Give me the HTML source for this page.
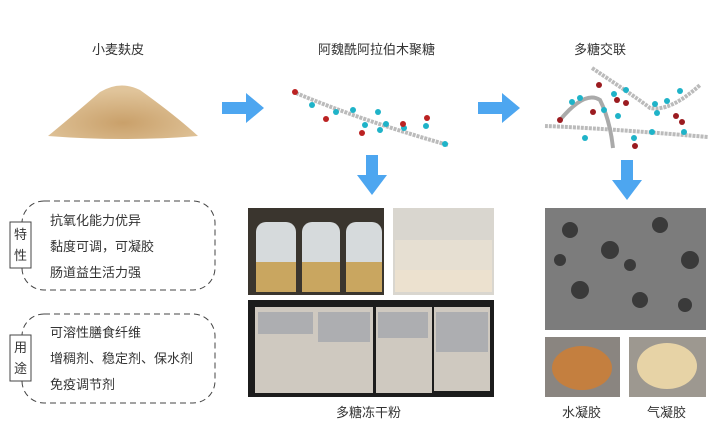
<!DOCTYPE html>
<html><head><meta charset="utf-8"><style>
body{margin:0;width:727px;height:430px;background:#fff;position:relative;overflow:hidden;font-family:"Liberation Sans","Noto Sans CJK SC",sans-serif;color:#333}
.a{position:absolute}
.t{position:absolute;font-size:13px;white-space:nowrap}
</style></head><body>
<div class="t" style="left:92px;top:39px">小麦麸皮</div>
<div class="t" style="left:318px;top:39px">阿魏酰阿拉伯木聚糖</div>
<div class="t" style="left:574px;top:39px">多糖交联</div>
<svg class="a" style="left:0;top:0" width="727" height="430">
<defs><radialGradient id="br" cx="50%" cy="70%" r="60%"><stop offset="0" stop-color="#c9a06a"/><stop offset="1" stop-color="#e0c49a"/></radialGradient></defs>
<path d="M48 136 Q70 118 100 92 Q120 80 140 90 Q175 115 198 136 Q125 142 48 136Z" fill="url(#br)"/>
<!-- right arrows -->
<path d="M222 102h24v-9l18 15-18 15v-9h-24z" fill="#4da6f0"/>
<path d="M478 102h24v-9l18 15-18 15v-9h-24z" fill="#4da6f0"/>
<!-- down arrows -->
<path d="M366 155h12v20h9l-15 20-15-20h9z" fill="#4da6f0"/>
<path d="M621 160h12v20h9l-15 20-15-20h9z" fill="#4da6f0"/>
<!-- chain1 -->
<path d="M296 93 Q360 120 448 145" stroke="#bbb" stroke-width="4" fill="none" stroke-dasharray="3 1"/>
<g fill="#1fb3c8"><circle cx="312" cy="105" r="3"/><circle cx="336" cy="112" r="3"/><circle cx="353" cy="110" r="3"/><circle cx="378" cy="112" r="3"/><circle cx="365" cy="125" r="3"/><circle cx="380" cy="130" r="3"/><circle cx="386" cy="124" r="3"/><circle cx="426" cy="126" r="3"/><circle cx="404" cy="128" r="3"/><circle cx="445" cy="144" r="3"/></g>
<g fill="#b22"><circle cx="295" cy="92" r="3"/><circle cx="326" cy="119" r="3"/><circle cx="362" cy="133" r="3"/><circle cx="403" cy="124" r="3"/><circle cx="427" cy="118" r="3"/></g>
<!-- chain2 -->
<path d="M545 126 Q600 128 708 137" stroke="#bbb" stroke-width="4" fill="none" stroke-dasharray="3 1"/>
<path d="M560 120 Q585 90 600 100 Q610 120 613 148" stroke="#aaa" stroke-width="4" fill="none"/>
<path d="M592 68 Q640 100 650 108 Q670 112 700 85" stroke="#bbb" stroke-width="4" fill="none" stroke-dasharray="3 1"/>
<g fill="#1fb3c8"><circle cx="572" cy="102" r="3"/><circle cx="580" cy="98" r="3"/><circle cx="604" cy="110" r="3"/><circle cx="614" cy="94" r="3"/><circle cx="626" cy="90" r="3"/><circle cx="655" cy="104" r="3"/><circle cx="667" cy="101" r="3"/><circle cx="680" cy="91" r="3"/><circle cx="684" cy="132" r="3"/><circle cx="652" cy="132" r="3"/><circle cx="585" cy="138" r="3"/><circle cx="634" cy="138" r="3"/><circle cx="618" cy="116" r="3"/><circle cx="657" cy="113" r="3"/></g>
<g fill="#9b1b20"><circle cx="599" cy="85" r="3"/><circle cx="617" cy="100" r="3"/><circle cx="626" cy="103" r="3"/><circle cx="593" cy="112" r="3"/><circle cx="560" cy="120" r="3"/><circle cx="676" cy="116" r="3"/><circle cx="682" cy="122" r="3"/><circle cx="635" cy="146" r="3"/></g>
<!-- dashed boxes -->
<rect x="22" y="201" width="193" height="89" rx="22" fill="none" stroke="#444" stroke-dasharray="6 4"/>
<rect x="22" y="314" width="193" height="89" rx="22" fill="none" stroke="#444" stroke-dasharray="6 4"/>
<rect x="10" y="222" width="21" height="46" fill="#fff" stroke="#444"/>
<rect x="10" y="335" width="21" height="46" fill="#fff" stroke="#444"/>
<!-- photos -->
<rect x="248" y="208" width="136" height="87" fill="#3a352e"/>
<g fill="#d6dadc"><rect x="256" y="222" width="40" height="70" rx="10"/><rect x="302" y="222" width="38" height="70" rx="10"/><rect x="346" y="222" width="36" height="70" rx="10"/></g>
<g fill="#c9a660"><rect x="256" y="262" width="40" height="30"/><rect x="302" y="262" width="38" height="30"/><rect x="346" y="262" width="36" height="30"/></g>
<rect x="393" y="208" width="101" height="87" fill="#d9d6cf"/>
<rect x="395" y="240" width="97" height="50" fill="#e6dfd2"/>
<rect x="395" y="270" width="97" height="22" fill="#ece1cf"/>
<rect x="248" y="300" width="246" height="97" fill="#1c1c1c"/>
<g fill="#cfc9c0"><rect x="255" y="307" width="60" height="86"/><rect x="315" y="307" width="58" height="86"/><rect x="376" y="307" width="56" height="86"/><rect x="434" y="307" width="56" height="84"/></g>
<g fill="#9fa3ac" opacity=".7"><rect x="258" y="312" width="55" height="22"/><rect x="318" y="312" width="52" height="30"/><rect x="378" y="312" width="50" height="26"/><rect x="436" y="312" width="52" height="40"/></g>
<rect x="545" y="208" width="161" height="122" fill="#7c7c7c"/>
<g fill="#3a3a3a"><circle cx="570" cy="230" r="8"/><circle cx="610" cy="250" r="9"/><circle cx="660" cy="225" r="8"/><circle cx="690" cy="260" r="9"/><circle cx="580" cy="290" r="9"/><circle cx="640" cy="300" r="8"/><circle cx="630" cy="265" r="6"/><circle cx="685" cy="305" r="7"/><circle cx="560" cy="260" r="6"/></g>
<rect x="545" y="337" width="75" height="60" fill="#8a8580"/>
<ellipse cx="582" cy="368" rx="30" ry="22" fill="#c47f3f"/>
<rect x="629" y="337" width="77" height="60" fill="#9d9890"/>
<ellipse cx="667" cy="366" rx="30" ry="23" fill="#e7d3a6"/>
</svg>
<div class="t" style="left:9px;top:224px;line-height:21px;width:23px;text-align:center">特<br>性</div>
<div class="t" style="left:9px;top:337px;line-height:21px;width:23px;text-align:center">用<br>途</div>
<div class="t" style="left:50px;top:208px;line-height:26px">抗氧化能力优异<br>黏度可调，可凝胶<br>肠道益生活力强</div>
<div class="t" style="left:50px;top:320px;line-height:26px">可溶性膳食纤维<br>增稠剂、稳定剂、保水剂<br>免疫调节剂</div>
<div class="t" style="left:336px;top:402px">多糖冻干粉</div>
<div class="t" style="left:562px;top:402px">水凝胶</div>
<div class="t" style="left:647px;top:402px">气凝胶</div>
</body></html>
